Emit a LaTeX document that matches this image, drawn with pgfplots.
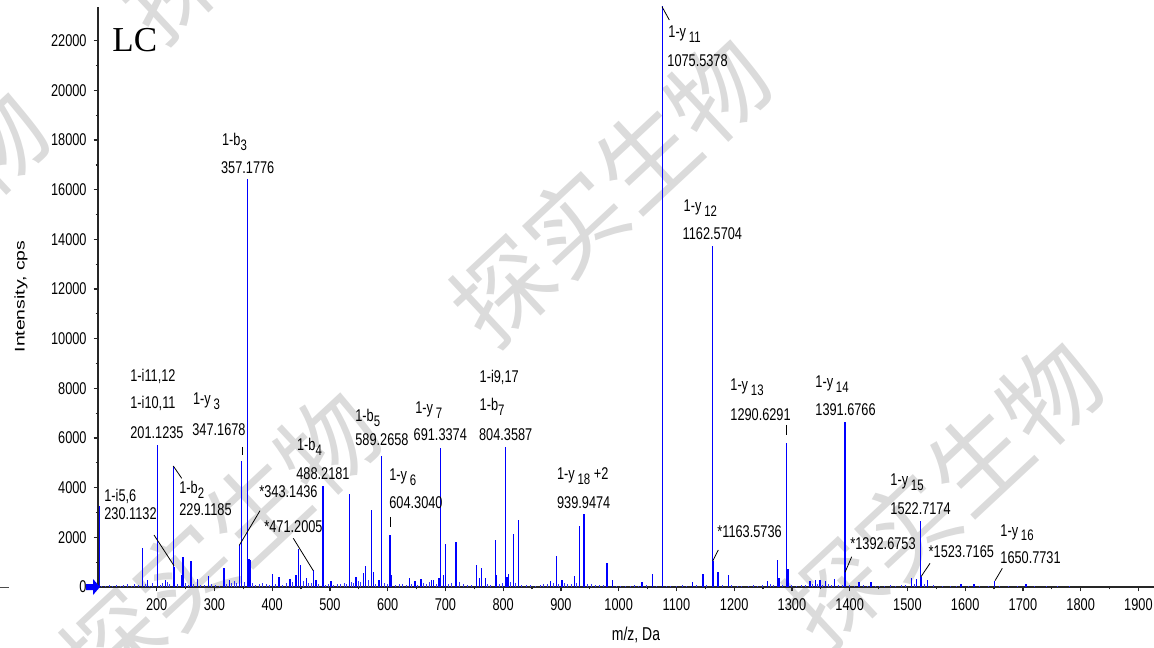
\documentclass[border=0pt]{standalone}
\usepackage{fontspec}
\setmainfont{Liberation Serif}
\newfontfamily\cond{Liberation Sans}[FakeStretch=0.75]
\newfontfamily\arial{Liberation Sans}
\newfontfamily\cjk{Noto Sans CJK SC}
\usepackage{graphicx}
\usepackage{pgfplots}
\usepackage{pgfplotstable}
\pgfplotsset{compat=1.18}
\definecolor{wm}{gray}{0.86}
\definecolor{spec}{RGB}{0,0,255}
\newcommand\sub[1]{\raisebox{-0.45ex}{\fontsize{7.6}{8}\selectfont #1}}
\newcommand\ssub[1]{\,\raisebox{-0.45ex}{\fontsize{7.6}{8}\selectfont #1}}

\pgfplotstableread{
mz int
100.5 3270
175 1570
183.8 280
201.12 5718
215.5 300
229.12 4873
230.11 805
231 560
243 480
245.5 1220
259.4 1060
270.5 320
290 450
316.7 765
326.5 300
343.14 1680
347.17 5087
357.18 16431
360 1130
362 1100
400.6 520
412 415
430.6 330
441 480
446 1545
449 885
459.6 375
471.2 680
475.7 300
488.22 4067
501.7 250
533.5 3745
545 400
557.8 560
561.2 860
571.6 3100
575.7 620
585 300
589.27 5276
604.30 2094
607 500
637.6 350
647.5 250
657.8 320
676.3 300
679.2 300
688.6 350
691.34 5610
696.6 480
700 1730
718 1800
753.3 885
758.5 350
762.5 780
768.9 350
786.8 1880
788.5 500
804.36 5650
806.5 400
809.3 520
817.4 2135
826.6 2685
881.6 250
892 1260
901.9 300
923.3 440
932 2470
939.95 2940
980 965
989.8 280
1040.6 200
1059 535
1075.54 23400
1127.4 200
1145.8 535
1162.57 13750
1163.57 1050
1171.8 590
1189.8 480
1257.5 250
1274.8 1090
1277.7 350
1290.63 5787
1293 725
1331.4 255
1341 300
1348.8 280
1358 250
1374.2 320
1391.68 6632
1392.68 575
1416.4 200
1436.7 200
1507.3 360
1516 320
1522.72 2670
1523.72 400
1535 280
1593 120
1615 120
1650.77 250
1705 120
}\peaks

\pgfplotstableread{
mz int
105 60
112 40
118 80
124 50
131 90
137 45
143 70
150 110
156 60
161 130
168 80
180 120
187 60
193 150
206 90
210 170
219 200
223 140
236 110
250 160
255 90
264 130
276 100
282 70
295 120
302 80
309 60
321 140
330 180
335 230
339 170
352 200
366 150
371 90
378 130
384 170
391 120
396 80
405 140
418 100
424 160
435 200
454 240
463 180
468 150
480 120
493 90
497 130
507 100
513 140
519 110
525 170
529 130
538 220
541 180
549 260
553 200
566 300
579 140
595 170
600 120
613 90
620 110
626 140
632 80
642 130
652 100
662 150
668 120
672 200
684 140
705 120
710 150
725 200
731 120
738 100
745 90
772 140
778 100
793 120
798 160
813 200
821 150
832 90
840 70
848 80
856 60
864 90
870 110
876 130
887 150
896 120
907 160
912 110
918 140
927 180
946 130
953 110
960 90
967 100
974 70
996 60
1004 50
1012 60
1020 45
1028 70
1035 50
1048 80
1066 60
1082 50
1090 60
1100 40
1110 70
1118 55
1135 80
1152 100
1180 90
1196 70
1205 60
1212 50
1225 60
1233 70
1241 50
1249 80
1263 120
1268 90
1283 100
1300 80
1308 60
1316 70
1323 90
1336 110
1345 120
1353 100
1363 110
1369 90
1381 100
1387 90
1400 80
1408 60
1424 70
1430 60
1445 50
1452 60
1460 50
1470 70
1480 60
1490 70
1497 80
1512 130
1530 110
1545 70
1560 50
1575 60
1585 40
1605 50
1625 40
1640 60
1660 50
1675 40
1690 50
1720 40
1740 50
1760 40
1780 50
}\noise

\begin{document}
\begin{tikzpicture}
% watermark (pixel coordinates)
\begin{scope}[x=0.5pt,y=-0.5pt,shift={(0pt,323.5pt)}]
\foreach \p in {(610.5,190.5),(942.5,493.5),(220.5,543.5),(278.5,-112.5),(-111.5,243.5),(1000.5,-162.5)}{
  \node[rotate=43,text=wm,inner sep=0pt,font=\cjk\fontsize{49}{49}\selectfont] at \p {探实生物};
}
\end{scope}

\begin{axis}[
  at={(49pt,30pt)}, anchor=south west,
  scale only axis, width=528pt, height=290pt,
  xmin=98.4, xmax=1927, ymin=0, ymax=23360,
  axis x line*=bottom, axis y line*=left,
  axis line style={black!85, line width=0.8pt},
  xtick={200,300,...,1900}, minor x tick num=1,
  ytick={0,2000,...,22000}, minor y tick num=1,
  tick align=outside,
  major tick length=2.2pt, minor tick length=1.2pt,
  tick style={black!85, line width=0.6pt},
  ticklabel style={font=\cond\fontsize{8.5}{10}\selectfont},
  /pgf/number format/assume math mode=true,
  /pgf/number format/1000 sep={},
  scaled y ticks=false,
  clip=true,
]
\addplot[ycomb, spec!80, line width=0.5pt, mark=none] table[x=mz,y=int]{\noise};
\addplot[ycomb, spec, line width=0.7pt, mark=none] table[x=mz,y=int]{\peaks};
\end{axis}

% annotations (pixel coordinates)
\begin{scope}[x=0.5pt,y=-0.5pt,shift={(0pt,323.5pt)},
  every node/.style={inner sep=0pt,anchor=base west,font=\cond\fontsize{8.5}{10}\selectfont}]
\fill[spec] (86,584) -- (93,584) -- (93,579) -- (100,587) -- (93,595) -- (93,590) -- (86,590) -- cycle;
\draw[black!70,line width=0.5pt] (0,587) -- (9,587);

\node at (112,52) {\fontsize{17.5}{20}\selectfont\rmfamily LC};

\node at (221.7,146) {1-b\sub{3}};
\node at (220.7,173.3) {357.1776};
\node at (668,38) {1-y\ssub{11}};
\node at (667,67) {1075.5378};
\node at (683.3,212) {1-y\ssub{12}};
\node at (682.3,239.3) {1162.5704};

\node at (130,382) {1-i11,12};
\node at (130,409) {1-i10,11};
\node at (130,439) {201.1235};
\node at (192.7,405) {1-y\ssub{3}};
\node at (192,436) {347.1678};
\node at (104,501.7) {1-i5,6};
\node at (104,519.3) {230.1132};
\node at (179,494) {1-b\sub{2}};
\node at (179,516) {229.1185};
\node at (259,497.7) {*343.1436};
\node at (264,532.7) {*471.2005};
\node at (296.7,451) {1-b\sub{4}};
\node at (296,479.3) {488.2181};
\node at (355,422) {1-b\sub{5}};
\node at (355,446) {589.2658};
\node at (389,481) {1-y\ssub{6}};
\node at (389,509) {604.3040};
\node at (415,414) {1-y\ssub{7}};
\node at (413.3,441) {691.3374};
\node at (479.3,382.7) {1-i9,17};
\node at (479.3,411) {1-b\sub{7}};
\node at (478.7,441) {804.3587};
\node at (556.7,480) {1-y\ssub{18} +2};
\node at (556.7,508.7) {939.9474};
\node at (717,537) {*1163.5736};
\node at (730,391) {1-y\ssub{13}};
\node at (730,421) {1290.6291};
\node at (815,388) {1-y\ssub{14}};
\node at (815,416) {1391.6766};
\node at (850,549.3) {*1392.6753};
\node at (890,486) {1-y\ssub{15}};
\node at (890,515) {1522.7174};
\node at (928.3,557.7) {*1523.7165};
\node at (1000,536) {1-y\ssub{16}};
\node at (1000,563.3) {1650.7731};

\draw[black,line width=0.4pt] (242,447) -- (242,455);
\draw[black,line width=0.4pt] (390.7,517) -- (390.7,527);
\draw[black,line width=0.4pt] (786.7,425) -- (786.7,435);
\draw[black,line width=0.4pt] (154,535) -- (174,565.7);
\draw[black,line width=0.4pt] (181.7,478.3) -- (173.3,466);
\draw[black,line width=0.4pt] (260,510.7) -- (239.3,545.3);
\draw[black,line width=0.4pt] (293.3,538.3) -- (313.3,570.7);
\draw[black,line width=0.4pt] (718.3,550) -- (712.7,561);
\draw[black,line width=0.4pt] (851.7,556.7) -- (845,572.3);
\draw[black,line width=0.4pt] (930,563.3) -- (921,576.7);
\draw[black,line width=0.4pt] (1002.3,568.3) -- (995,580.7);
\draw[black,line width=0.4pt] (662,6.7) -- (669.3,20);

\node[anchor=center,rotate=90] at (21,296.5) {\scalebox{1}[0.72]{\arial\fontsize{9.7}{11}\selectfont Intensity, cps}};
\node[anchor=center] at (636,635) {\fontsize{9.3}{11}\selectfont m/z, Da};
\end{scope}
\pgfresetboundingbox
\path[use as bounding box] (0pt,0pt) rectangle (577pt,323.5pt);
\end{tikzpicture}
\end{document}
